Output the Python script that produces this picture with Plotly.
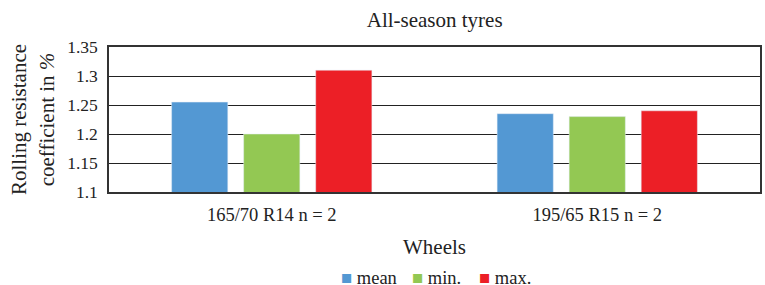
import plotly.graph_objects as go

categories = ["165/70 R14 n = 2", "195/65 R15 n = 2"]
series_names = ["mean", "min.", "max."]
mean_vals = [1.255, 1.235]
min_vals = [1.20, 1.23]
max_vals = [1.31, 1.24]
y_ticks = [1.1, 1.15, 1.2, 1.25, 1.3, 1.35]
y_tick_labels = ["1.1", "1.15", "1.2", "1.25", "1.3", "1.35"]

colors = ["#5398D3", "#93C853", "#EC1F26"]
FONT = "Liberation Serif, Times New Roman, serif"

fig = go.Figure()
for name, vals, col in zip(series_names, [mean_vals, min_vals, max_vals], colors):
    fig.add_trace(go.Bar(name=name, x=categories, y=vals, marker_color=col))

fig.update_layout(
    width=765, height=285,
    margin=dict(l=109, r=5, t=47, b=93),
    paper_bgcolor="white", plot_bgcolor="white",
    font=dict(family=FONT, size=18, color="#222"),
    barmode="group", bargap=0.336, bargroupgap=0.22,
    title=dict(text="All-season tyres", x=0.5682, xanchor="center", y=0.93, yanchor="middle",
               font=dict(family=FONT, size=21, color="#222")),
    showlegend=False,
)

# legend drawn as annotations below the plot (avoids margin push)
legend_x = [0.3533, 0.4624, 0.5653]
for name, col, lx in zip(series_names, colors, legend_x):
    fig.add_annotation(
        text=f'<span style="color:{col}">■</span> {name}',
        x=lx, y=-0.593, xref="paper", yref="paper", xanchor="left", yanchor="middle",
        showarrow=False, font=dict(family=FONT, size=18.5, color="#222"),
    )

fig.update_yaxes(
    range=[1.1, 1.35], tickvals=y_ticks, ticktext=y_tick_labels,
    showgrid=True, gridcolor="#222", gridwidth=1,
    showline=True, linecolor="#333", linewidth=1.5, mirror=True,
    ticks="outside", ticklen=6, tickcolor="rgba(0,0,0,0)",
    zeroline=False, automargin=False,
    tickfont=dict(family=FONT, size=17.5),
    title=dict(text="Rolling resistance<br>coefficient in <i>%</i>", standoff=7,
               font=dict(family=FONT, size=21)),
)
fig.update_xaxes(
    showline=True, linecolor="#333", linewidth=1.5, mirror=True,
    ticks="outside", ticklen=5, tickcolor="rgba(0,0,0,0)",
    automargin=False,
    tickfont=dict(family=FONT, size=18.5),
    title=dict(text="Wheels", standoff=15, font=dict(family=FONT, size=21)),
)

fig.write_html("out.html", config={"displayModeBar": False},
               post_script="document.body.style.margin='0';")
